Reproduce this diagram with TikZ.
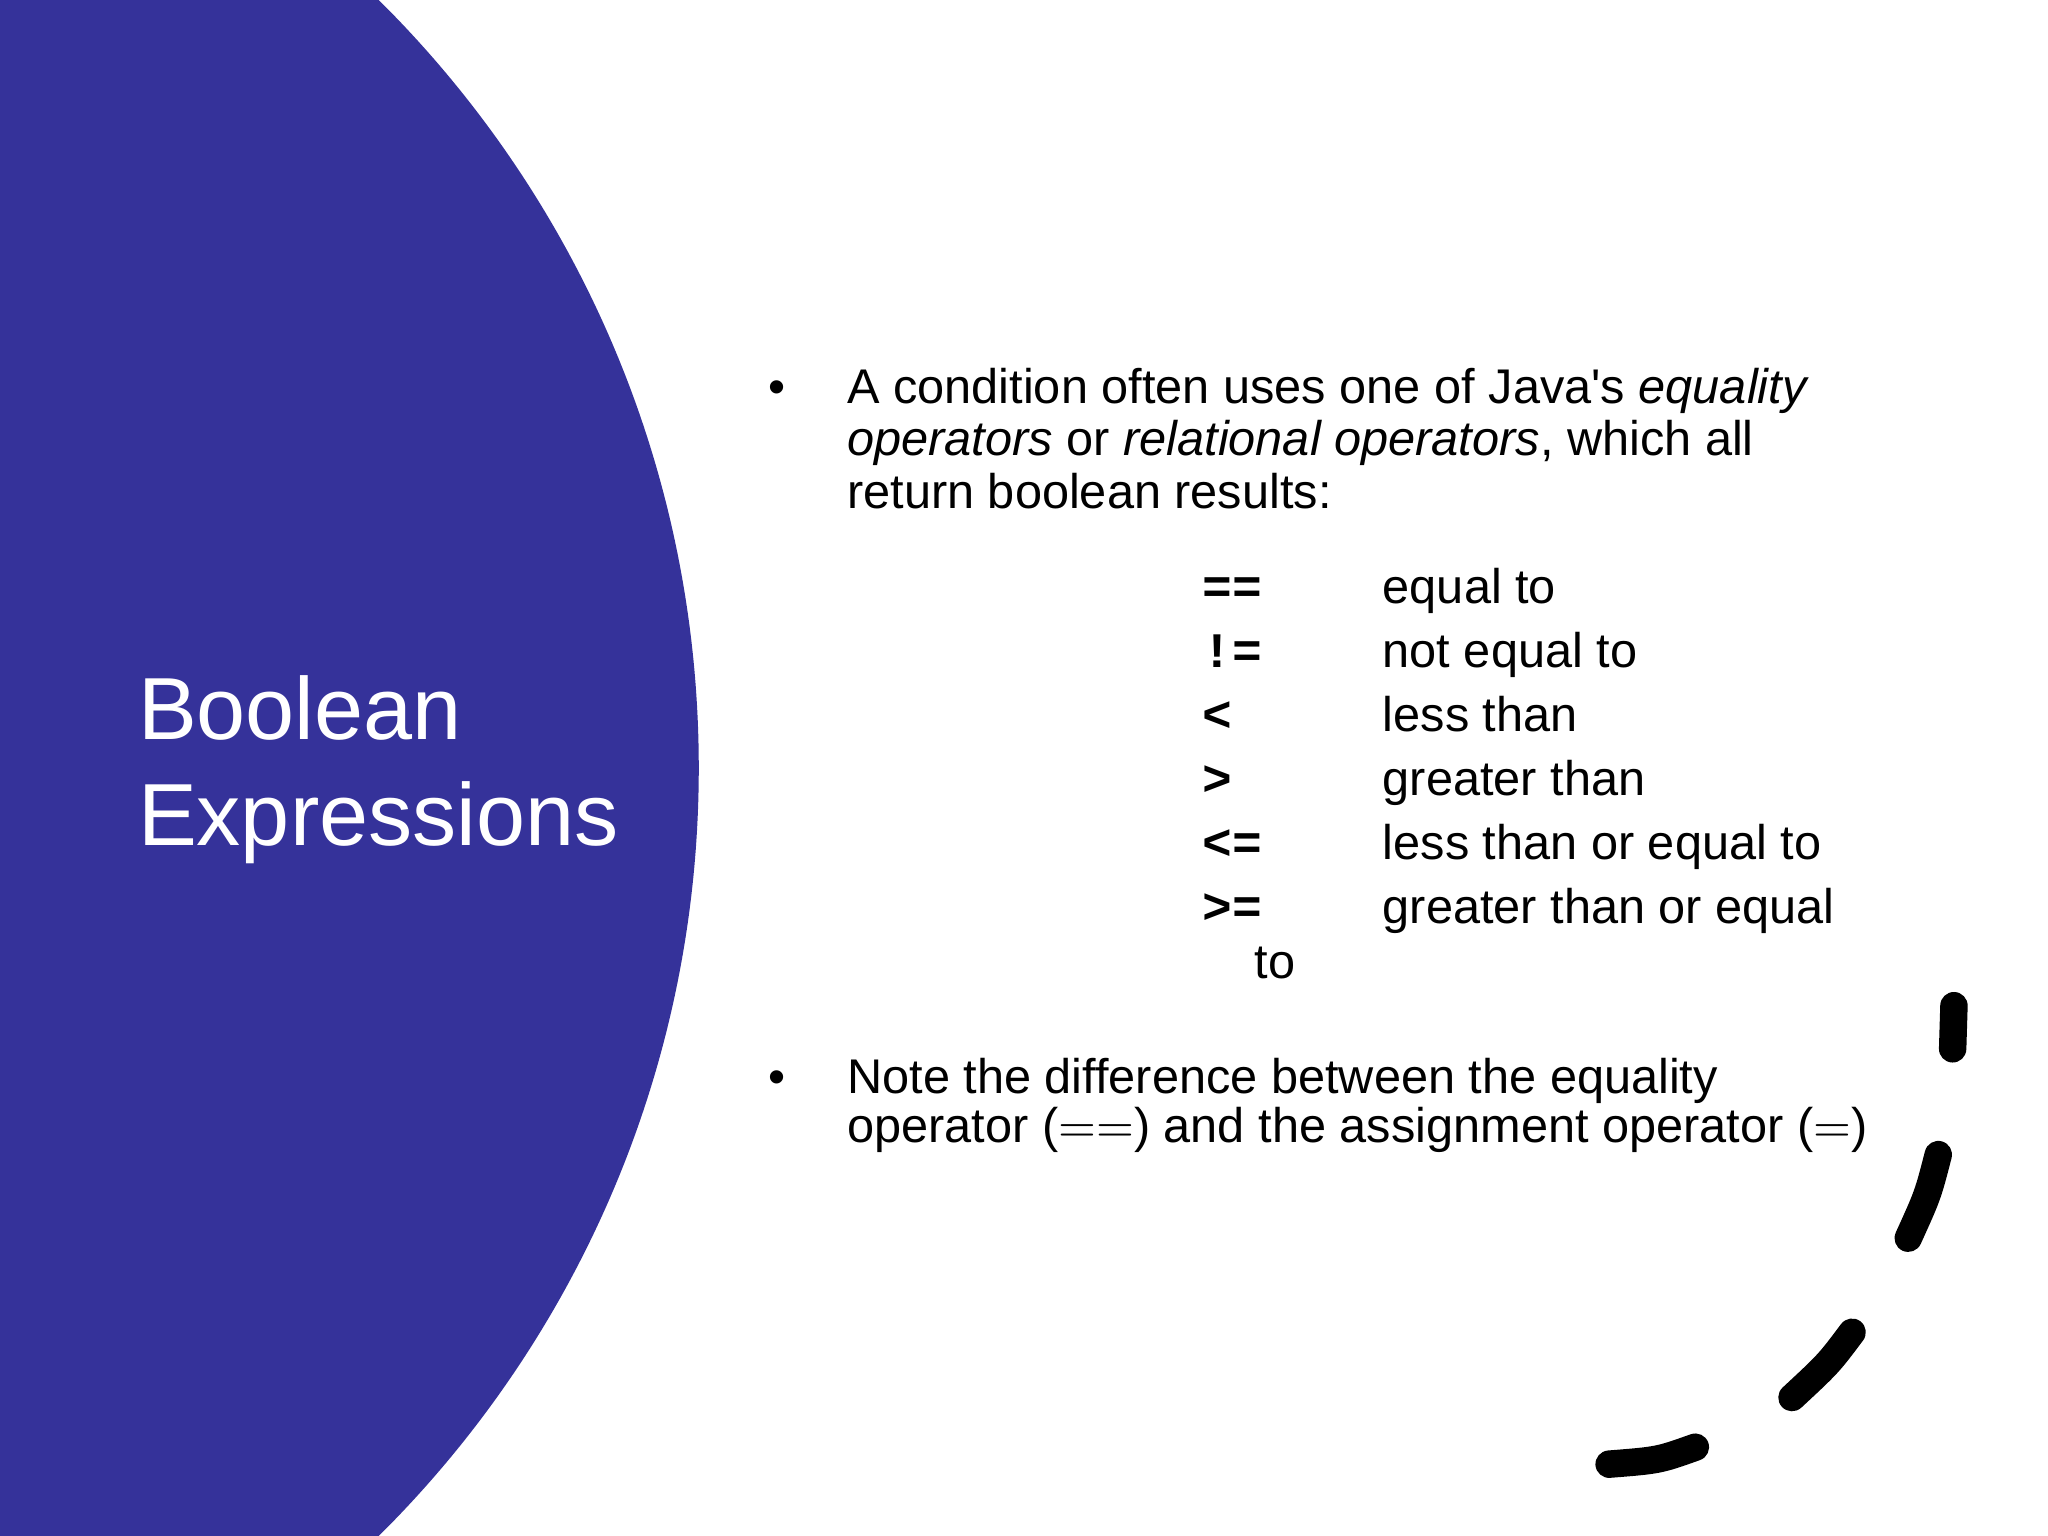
\documentclass[tikz,border=0pt]{standalone}
\usepackage{fontspec}
\setmainfont{Liberation Sans}
\newfontfamily\monob{Liberation Mono}
\newfontfamily\serf{Latin Modern Roman}
\definecolor{deep}{HTML}{35329A}
\begin{document}
\begin{tikzpicture}[x=0.01cm,y=-0.01cm,
  txt/.style={anchor=base west,inner sep=0,font=\fontsize{10.6pt}{13pt}\selectfont},
  op/.style={anchor=base west,inner sep=0,font=\fontsize{10.8pt}{13pt}\monob\bfseries},
  dsh/.style={line width=0.21cm,line cap=round,black}]
\useasboundingbox (0,0) rectangle (1568,1176);
\fill[white] (0,0) rectangle (1568,1176);
\begin{scope}
\clip (0,0) rectangle (1568,1176);
\fill[deep] (-293,588) circle (828);
\end{scope}
\node[anchor=base west,inner sep=0,text=white,font=\fontsize{19.2pt}{21pt}\selectfont] (t1) at (105,566) {Boolean};
\node[anchor=base west,inner sep=0,text=white,font=\fontsize{19.2pt}{21pt}\selectfont] (t2) at (105,647) {Expressions};
\node[txt] (b1) at (588,309) {\textbullet};
\node[txt] (l1) at (648,309) {A condition often uses one of Java\textquotesingle s \textit{equality}};
\node[txt] (l2) at (648,349) {\textit{operators} or \textit{relational operators}, which all};
\node[txt] (l3) at (648,389) {return boolean results:};
\node[op] (o1) at (920,462) {==};
\node[op] (o2) at (920,511) {!=};
\node[op] (o3) at (920,560) {<};
\node[op] (o4) at (920,609) {>};
\node[op] (o5) at (920,658) {<=};
\node[op] (o6) at (920,707) {>=};
\node[txt] (d1) at (1058,462) {equal to};
\node[txt] (d2) at (1058,511) {not equal to};
\node[txt] (d3) at (1058,560) {less than};
\node[txt] (d4) at (1058,609) {greater than};
\node[txt] (d5) at (1058,658) {less than or equal to};
\node[txt] (d6) at (1058,707) {greater than or equal};
\node[txt] (d7) at (960,749) {to};
\node[txt] (b2) at (588,837) {\textbullet};
\node[txt] (m1) at (648,837) {Note the difference between the equality};
\node[txt] (m2) at (648,875) {operator ({\serf==}) and the assignment operator ({\serf=})};
\draw[dsh] (1496,770) -- (1495,803);
\draw[dsh] (1484,884) .. controls (1476,915) .. (1461,948);
\draw[dsh] (1418,1020) .. controls (1400,1044) .. (1372,1070);
\draw[dsh] (1298,1108) .. controls (1270,1118) .. (1232,1121);
\end{tikzpicture}
\end{document}
